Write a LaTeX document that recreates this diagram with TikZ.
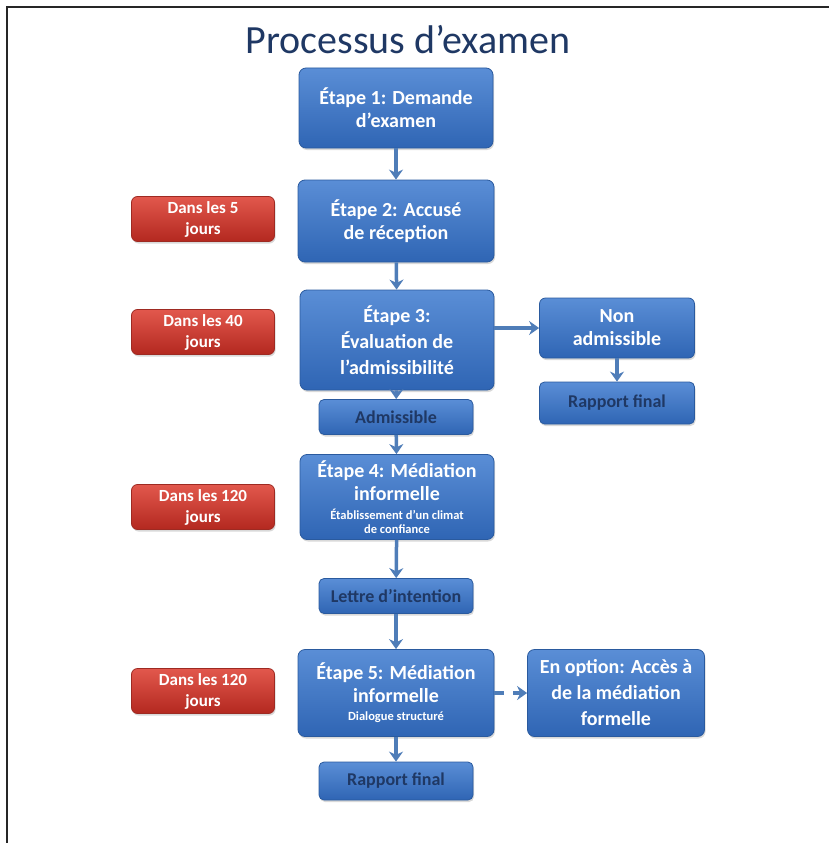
\documentclass[tikz,border=0pt]{standalone}
\usepackage{fontspec}
\setmainfont{Carlito}
\usetikzlibrary{arrows.meta,shadows}

\definecolor{boxtop}{HTML}{5A8ED6}
\definecolor{boxbot}{HTML}{2F65B4}
\definecolor{boxline}{HTML}{2A5A9E}
\definecolor{redtop}{HTML}{E2584C}
\definecolor{redbot}{HTML}{B3281F}
\definecolor{redline}{HTML}{9E2A22}
\definecolor{navy}{HTML}{1F3864}
\definecolor{arrowblue}{HTML}{4F7DB8}

\newcommand{\soustexte}[1]{{\fontsize{12.5}{14}\selectfont #1}}

\begin{document}
\begin{tikzpicture}[x=1pt, y=-1pt,
  stage/.style={draw=boxline, line width=0.8pt, rounded corners=7pt,
    top color=boxtop, bottom color=boxbot, text=white, align=center,
    inner sep=2pt, font=\bfseries\fontsize{20}{23}\selectfont,
    drop shadow={opacity=0.3, shadow xshift=1pt, shadow yshift=-2pt}},
  result/.style={stage, text=navy, rounded corners=5pt,
    minimum width=154pt, minimum height=35pt,
    font=\bfseries\fontsize{18}{20}\selectfont},
  delay/.style={draw=redline, line width=0.8pt, rounded corners=6pt,
    top color=redtop, bottom color=redbot, text=white, align=center,
    inner sep=2pt, minimum width=143pt, minimum height=45pt,
    font=\bfseries\fontsize{17}{21}\selectfont,
    drop shadow={opacity=0.3, shadow xshift=1pt, shadow yshift=-2pt}},
  flow/.style={draw=arrowblue, line width=3.5pt, -{Stealth[length=10pt,width=14pt]}}]

\useasboundingbox (0,0) rectangle (829,843);

% cadre
\draw[line width=2pt, black!85] (7,843) -- (7,7) -- (829,7);

\node (titre) at (408,40) {\fontsize{40}{44}\selectfont\color{navy}Processus d’examen};

% colonne principale
\node[stage, minimum width=194pt, minimum height=80pt] (e1) at (396,108)
  {Étape 1: Demande\\d’examen};
\node[stage, minimum width=196pt, minimum height=82pt] (e2) at (396,221)
  {Étape 2: Accusé\\de réception};
\node[stage, minimum width=194pt, minimum height=100pt,
  font=\bfseries\fontsize{20}{26}\selectfont] (e3) at (397,340)
  {Étape 3:\\Évaluation de\\l’admissibilité};
\node[result] (adm) at (396,417) {Admissible};
\node[stage, minimum width=194pt, minimum height=85pt] (e4) at (397,497)
  {Étape 4: Médiation\\informelle\\[-4pt]\soustexte{Établissement d’un climat}\\[-9pt]\soustexte{de confiance}};
\node[result] (lettre) at (396,596) {Lettre d’intention};
\node[stage, minimum width=196pt, minimum height=87pt] (e5) at (396,693)
  {Étape 5: Médiation\\informelle\\[-5pt]\soustexte{Dialogue structuré}};
\node[result, minimum height=38pt] (rapport) at (396,781) {Rapport final};

% branche de droite
\node[stage, minimum width=155pt, minimum height=60pt, rounded corners=6pt] (nonadm) at (617,328)
  {Non\\admissible};
\node[result, minimum width=155pt, minimum height=42pt] (rapportb) at (617,403) {Rapport final};
\node[stage, minimum width=177pt, minimum height=87pt,
  font=\bfseries\fontsize{20}{26}\selectfont] (option) at (616,693)
  {En option: Accès à\\de la médiation\\formelle};

% delais
\node[delay] (d1) at (203,219) {Dans les 5\\jours};
\node[delay] (d2) at (203,332) {Dans les 40\\jours};
\node[delay] (d3) at (203,507) {Dans les 120\\jours};
\node[delay] (d4) at (203,691) {Dans les 120\\jours};

% fleches
\draw[flow] (e1) -- (e2);
\draw[flow] (e2) -- (e3);
\draw[flow] (e3) -- (adm);
\draw[flow] (adm) -- (e4);
\draw[flow] (e4) -- (lettre);
\draw[flow] (lettre) -- (e5);
\draw[flow] (e5) -- (rapport);
\draw[flow] (e3.east |- nonadm.west) -- (nonadm.west);
\draw[flow] (nonadm) -- (rapportb);
\draw[flow, dash pattern=on 10pt off 9pt] (e5.east |- option.west) -- (option.west);

\end{tikzpicture}
\end{document}
